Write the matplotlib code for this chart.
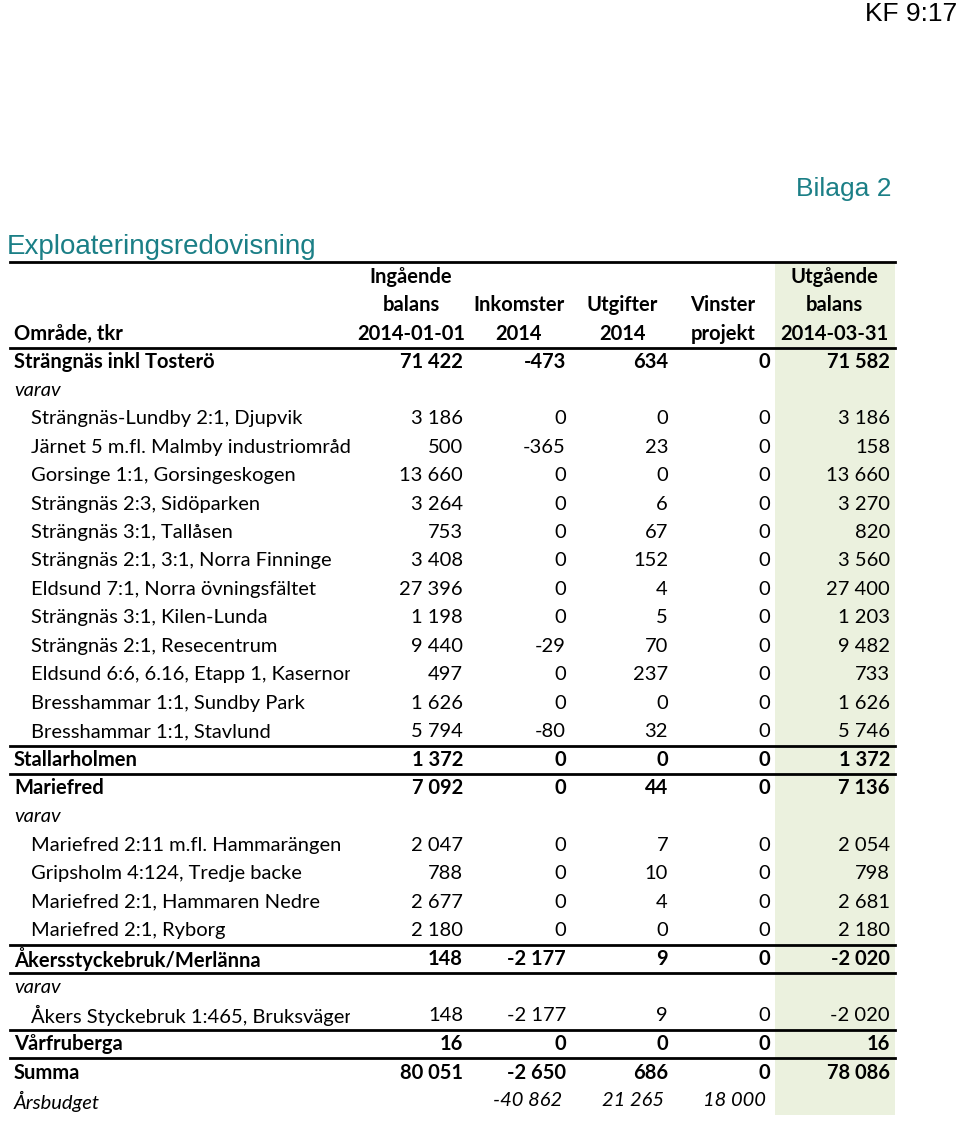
import matplotlib
matplotlib.use("Agg")
import matplotlib.pyplot as plt
from matplotlib.patches import Rectangle

# table contents
areas = [
    "Strängnäs inkl Tosterö", "varav",
    "Strängnäs-Lundby 2:1, Djupvik",
    "Järnet 5 m.fl. Malmby industriområde",
    "Gorsinge 1:1, Gorsingeskogen",
    "Strängnäs 2:3, Sidöparken",
    "Strängnäs 3:1, Tallåsen",
    "Strängnäs 2:1, 3:1, Norra Finninge",
    "Eldsund 7:1, Norra övningsfältet",
    "Strängnäs 3:1, Kilen-Lunda",
    "Strängnäs 2:1, Resecentrum",
    "Eldsund 6:6, 6.16, Etapp 1, Kasernområdet",
    "Bresshammar 1:1, Sundby Park",
    "Bresshammar 1:1, Stavlund",
    "Stallarholmen", "Mariefred", "varav",
    "Mariefred 2:11 m.fl. Hammarängen",
    "Gripsholm 4:124, Tredje backe",
    "Mariefred 2:1, Hammaren Nedre",
    "Mariefred 2:1, Ryborg",
    "Åkersstyckebruk/Merlänna", "varav",
    "Åkers Styckebruk 1:465, Bruksvägen",
    "Vårfruberga", "Summa", "Årsbudget",
]
# b = bold total row, s = sub row, v = "varav", i = italic budget row
row_kind = ["b", "v", "s", "s", "s", "s", "s", "s", "s", "s", "s", "s", "s", "s",
            "b", "b", "v", "s", "s", "s", "s", "b", "v", "s", "b", "b", "i"]

ingaende = [71422, None, 3186, 500, 13660, 3264, 753, 3408, 27396, 1198, 9440, 497,
            1626, 5794, 1372, 7092, None, 2047, 788, 2677, 2180, 148, None, 148, 16,
            80051, None]
inkomster = [-473, None, 0, -365, 0, 0, 0, 0, 0, 0, -29, 0, 0, -80, 0, 0, None, 0, 0,
             0, 0, -2177, None, -2177, 0, -2650, -40862]
utgifter = [634, None, 0, 23, 0, 6, 67, 152, 4, 5, 70, 237, 0, 32, 0, 44, None, 7, 10,
            4, 0, 9, None, 9, 0, 686, 21265]
vinster = [0, None, 0, 0, 0, 0, 0, 0, 0, 0, 0, 0, 0, 0, 0, 0, None, 0, 0, 0, 0, 0,
           None, 0, 0, 0, 18000]
utgaende = [71582, None, 3186, 158, 13660, 3270, 820, 3560, 27400, 1203, 9482, 733,
            1626, 5746, 1372, 7136, None, 2054, 798, 2681, 2180, -2020, None, -2020, 16,
            78086, None]

headers = [["Ingående", "balans", "2014-01-01"], ["Inkomster", "2014"],
           ["Utgifter", "2014"], ["Vinster", "projekt"],
           ["Utgående", "balans", "2014-03-31"]]

lines_after = ["Bresshammar 1:1, Stavlund", "Stallarholmen", "Mariefred 2:1, Ryborg",
               "Åkersstyckebruk/Merlänna", "Åkers Styckebruk 1:465, Bruksvägen",
               "Vårfruberga"]

teal = "#1b7f86"
green = "#ebf1de"
font = "Lato"

fig = plt.figure(figsize=(9.6, 11.21), dpi=100)
ax = fig.add_axes([0, 0, 1, 1])
ax.set_xlim(0, 960)
ax.set_ylim(1121, 0)
ax.axis("off")

ax.text(957, 14, "KF 9:17", fontsize=19, family="Liberation Sans", ha="right", va="center")
ax.text(892, 189, "Bilaga 2", fontsize=19, family="Liberation Sans", color=teal,
        ha="right", va="center")
ax.text(7, 247, "Exploateringsredovisning", fontsize=20, family="Liberation Sans",
        color=teal, ha="left", va="center")

# green shading of last column
ax.add_patch(Rectangle((775, 263), 120, 852, color=green, zorder=0, lw=0))

col_right = [463, 566, 668, 770, 890]
col_center = [411, 519, 622, 723, 834]
fs = 14.5

# header
hdr_y = [277, 305, 334]
ax.text(14, hdr_y[2], "Område, tkr", fontsize=fs, family=font, weight="bold", va="center")
for c, lines in enumerate(headers):
    ys = hdr_y[-len(lines):]
    for y, t in zip(ys, lines):
        ax.text(col_center[c], y, t, fontsize=fs, family=font, weight="bold",
                ha="center", va="center")

ax.plot([10, 895], [262, 262], color="black", lw=2)
ax.plot([10, 895], [348, 348], color="black", lw=2)

step = (1101 - 362) / 26
clip = Rectangle((0, 0), 350, 1121, transform=ax.transData)


def fmt(v):
    return f"{v:,}".replace(",", " ")


columns = [ingaende, inkomster, utgifter, vinster, utgaende]
for i, (name, kind) in enumerate(zip(areas, row_kind)):
    y = 362 + i * step
    weight = "bold" if kind == "b" else "normal"
    style = "italic" if kind in ("v", "i") else "normal"
    x0 = 31 if kind == "s" else 14
    t = ax.text(x0, y, name, fontsize=fs, family=font, weight=weight, style=style,
                va="center")
    t.set_clip_on(True)
    t.set_clip_path(clip)
    for c, col in enumerate(columns):
        v = col[i]
        if v is None:
            continue
        ax.text(col_right[c] - (4 if kind == "i" else 0), y, fmt(v), fontsize=fs,
                family=font, weight=weight, style=style, ha="right", va="center")
    if name in lines_after:
        ax.plot([10, 895], [y + step / 2] * 2, color="black", lw=2)

fig.savefig("out.png", dpi=100)
